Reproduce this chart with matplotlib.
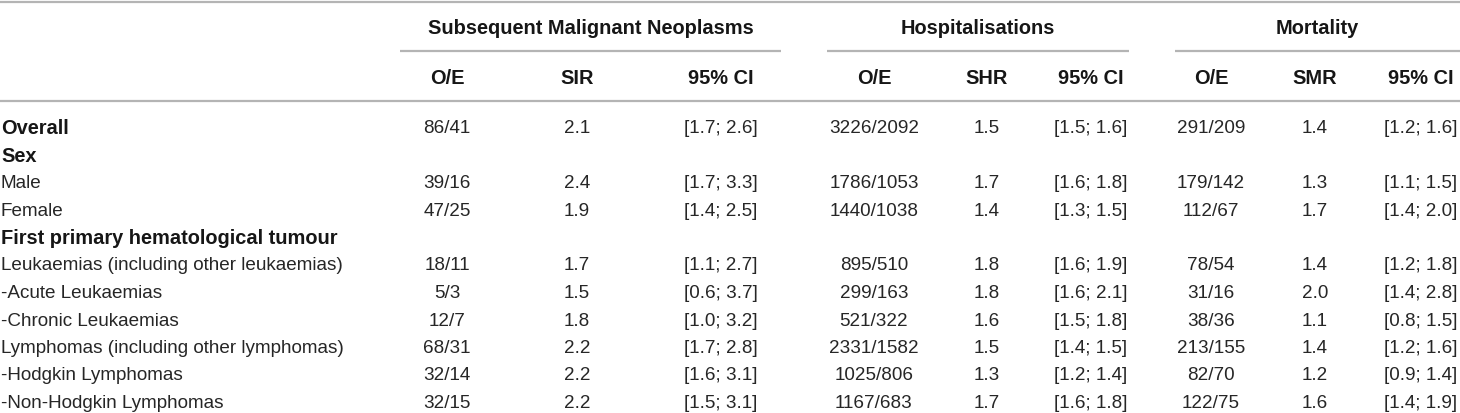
import matplotlib
matplotlib.use('Agg')
import matplotlib.pyplot as plt

# table content
groups = ['Subsequent Malignant Neoplasms', 'Hospitalisations', 'Mortality']
sub_headers = ['O/E', 'SIR', '95% CI', 'O/E', 'SHR', '95% CI', 'O/E', 'SMR', '95% CI']

row_labels = ['Overall', 'Sex', 'Male', 'Female', 'First primary hematological tumour',
              'Leukaemias (including other leukaemias)', '-Acute Leukaemias',
              '-Chronic Leukaemias', 'Lymphomas (including other lymphomas)',
              '-Hodgkin Lymphomas', '-Non-Hodgkin Lymphomas']
bold_rows = ['Overall', 'Sex', 'First primary hematological tumour']

smn_oe = ['86/41', '', '39/16', '47/25', '', '18/11', '5/3', '12/7', '68/31', '32/14', '32/15']
smn_sir = ['2.1', '', '2.4', '1.9', '', '1.7', '1.5', '1.8', '2.2', '2.2', '2.2']
smn_ci = ['[1.7; 2.6]', '', '[1.7; 3.3]', '[1.4; 2.5]', '', '[1.1; 2.7]', '[0.6; 3.7]',
          '[1.0; 3.2]', '[1.7; 2.8]', '[1.6; 3.1]', '[1.5; 3.1]']
hosp_oe = ['3226/2092', '', '1786/1053', '1440/1038', '', '895/510', '299/163',
           '521/322', '2331/1582', '1025/806', '1167/683']
hosp_shr = ['1.5', '', '1.7', '1.4', '', '1.8', '1.8', '1.6', '1.5', '1.3', '1.7']
hosp_ci = ['[1.5; 1.6]', '', '[1.6; 1.8]', '[1.3; 1.5]', '', '[1.6; 1.9]', '[1.6; 2.1]',
           '[1.5; 1.8]', '[1.4; 1.5]', '[1.2; 1.4]', '[1.6; 1.8]']
mort_oe = ['291/209', '', '179/142', '112/67', '', '78/54', '31/16', '38/36',
           '213/155', '82/70', '122/75']
mort_smr = ['1.4', '', '1.3', '1.7', '', '1.4', '2.0', '1.1', '1.4', '1.2', '1.6']
mort_ci = ['[1.2; 1.6]', '', '[1.1; 1.5]', '[1.4; 2.0]', '', '[1.2; 1.8]', '[1.4; 2.8]',
           '[0.8; 1.5]', '[1.2; 1.6]', '[0.9; 1.4]', '[1.4; 1.9]']

columns = [smn_oe, smn_sir, smn_ci, hosp_oe, hosp_shr, hosp_ci, mort_oe, mort_smr, mort_ci]

# layout (pixels)
col_x = [447, 577, 721, 874, 987, 1091, 1211, 1315, 1421]
group_span = [(400, 781), (827, 1129), (1175, 1460)]
y_group = 28.5
y_sub = 78.5
y_first = 128.5
row_h = 27.5

txt_col = '#262626'
bold_col = '#161616'
rule_col = '#b4b4b4'
fam = ['Liberation Sans', 'DejaVu Sans']
fs = 13.6
fs_b = 14.4

fig = plt.figure(figsize=(14.6, 4.13), dpi=100)
ax = fig.add_axes([0, 0, 1, 1])
ax.set_xlim(0, 1460)
ax.set_ylim(413, 0)
ax.axis('off')

# rules
ax.plot([0, 1460], [1.5, 1.5], color=rule_col, lw=1.6, solid_capstyle='butt')
ax.plot([0, 1460], [101, 101], color=rule_col, lw=1.6, solid_capstyle='butt')
for (x0, x1), g in zip(group_span, groups):
    ax.plot([x0, x1], [51, 51], color=rule_col, lw=1.6, solid_capstyle='butt')
    ax.text((x0 + x1) / 2, y_group, g, ha='center', va='center', fontsize=fs_b,
            fontweight='bold', family=fam, color=bold_col)

for x, h in zip(col_x, sub_headers):
    ax.text(x, y_sub, h, ha='center', va='center', fontsize=fs_b, fontweight='bold',
            family=fam, color=bold_col)

for i, lab in enumerate(row_labels):
    y = y_first + i * row_h
    is_b = lab in bold_rows
    ax.text(1, y, lab, ha='left', va='center', fontsize=fs_b if is_b else fs,
            fontweight='bold' if is_b else 'normal', family=fam,
            color=bold_col if is_b else txt_col)
    for x, col in zip(col_x, columns):
        ax.text(x, y, col[i], ha='center', va='center', fontsize=fs, family=fam, color=txt_col)

fig.savefig('out.png', dpi=100)
